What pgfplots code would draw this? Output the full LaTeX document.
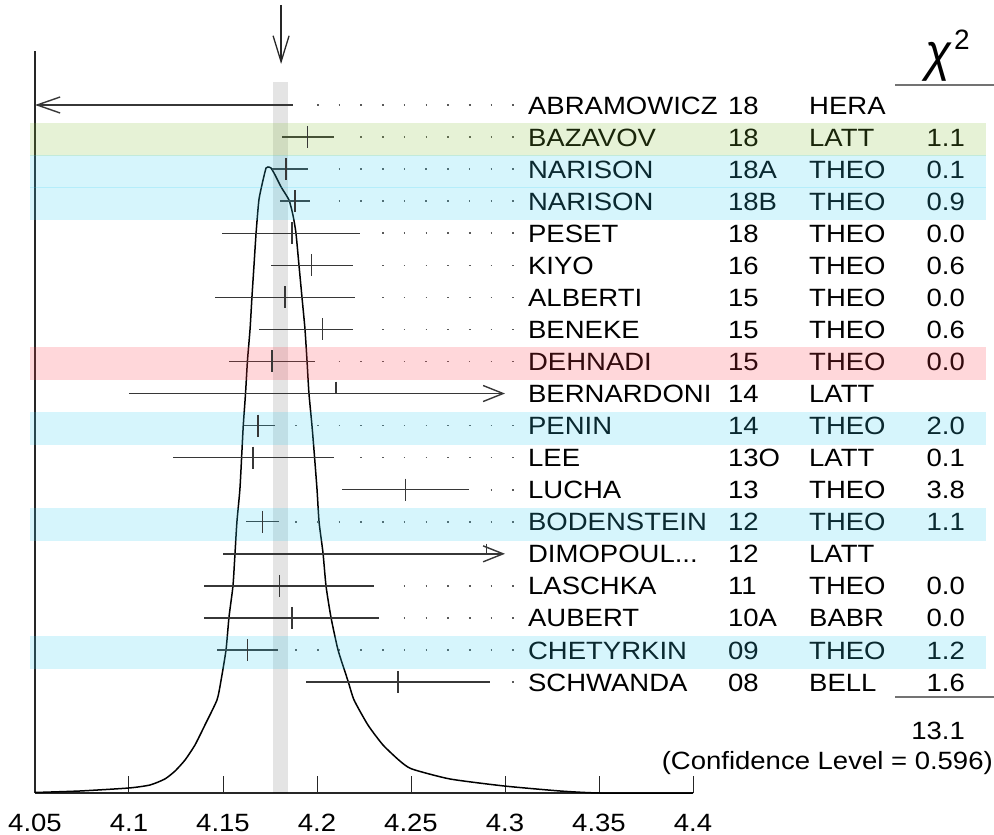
\documentclass[border=0pt]{standalone}
\usepackage{fontspec}
\setmainfont{Liberation Sans}[FakeStretch=1.1]
\newfontfamily\hdrfont{Liberation Sans}
\usepackage{graphicx}
\usepackage{pgfplots}
\pgfplotsset{compat=1.18}
\usetikzlibrary{arrows.meta}

\definecolor{bandgreen}{RGB}{130,190,50}
\definecolor{bandcyan}{RGB}{50,205,240}
\definecolor{bandpink}{RGB}{255,55,70}
\definecolor{barcol}{RGB}{55,55,55}

% measurements: row index (0 = top), central value, errors
\pgfplotstableread{
row v em ep
1 4.1950 0.0136 0.0140
2 4.1835 0.0075 0.0115
3 4.1883 0.0080 0.0080
4 4.1867 0.0372 0.0362
5 4.1970 0.0215 0.0220
6 4.1830 0.0370 0.0370
7 4.2030 0.0340 0.0160
8 4.1760 0.0230 0.0230
10 4.1687 0.0077 0.0090
11 4.1660 0.0426 0.0430
12 4.2470 0.0337 0.0340
13 4.1710 0.0090 0.0090
15 4.1800 0.0400 0.0503
16 4.1867 0.0467 0.0463
17 4.1630 0.0160 0.0160
18 4.2430 0.0490 0.0490
}\meas

% ideogram, relative height
\pgfplotstableread{
x h
4.0500 0.0008
4.0739 0.0032
4.1000 0.0080
4.1112 0.0128
4.1191 0.0224
4.1245 0.0351
4.1298 0.0527
4.1351 0.0767
4.1404 0.1086
4.1468 0.1486
4.1489 0.1789
4.1516 0.2284
4.1532 0.2812
4.1553 0.3307
4.1564 0.3834
4.1574 0.4329
4.1590 0.4856
4.1601 0.5479
4.1608 0.5879
4.1620 0.6390
4.1630 0.6901
4.1644 0.7412
4.1654 0.7923
4.1665 0.8435
4.1676 0.8946
4.1691 0.9473
4.1713 0.9792
4.1729 0.9984
4.1739 1.0000
4.1755 0.9984
4.1777 0.9872
4.1809 0.9681
4.1851 0.9473
4.1872 0.9233
4.1888 0.8946
4.1904 0.8435
4.1920 0.7923
4.1936 0.7412
4.1947 0.6901
4.1957 0.6390
4.1973 0.5879
4.1984 0.5479
4.2000 0.4856
4.2011 0.4329
4.2032 0.3834
4.2048 0.3307
4.2074 0.2812
4.2112 0.2284
4.2165 0.1789
4.2197 0.1486
4.2271 0.1086
4.2351 0.0767
4.2441 0.0511
4.2505 0.0383
4.2707 0.0224
4.2995 0.0112
4.3293 0.0032
4.3505 0.0000
4.4000 0.0000
}\ideo

\tikzset{
  txt/.style={font=\fontsize{25}{25}\selectfont, inner sep=0pt, yshift=-9pt},
  leader/.style={black!65, line width=1.6pt, dash pattern=on 1.6pt off 20.1pt},
}
\newcommand{\entry}[5]{%
  \node[txt,anchor=base west] at (axis cs:4.3122,#1) {#2};
  \node[txt,anchor=base west] at (axis cs:4.4186,#1) {#3};
  \node[txt,anchor=base west] at (axis cs:4.4617,#1) {#4};
  \node[txt,anchor=base east] at (axis cs:4.5447,#1) {#5};}
\newcommand{\leaderdots}[2]{\draw[leader] (axis cs:#2,#1) -- (axis cs:4.3048,#1);}
\newcommand{\band}[3]{\fill[#1,opacity=0.2] (axis cs:4.0473,#2) rectangle (axis cs:4.5559,#3);}

\begin{document}
\begin{tikzpicture}
\path[use as bounding box] (-35pt,-42pt) rectangle (959pt,793pt);

% ideogram and axis lines
\begin{axis}[at={(0,0)}, anchor=south west, scale only axis,
  width=658pt, height=742pt, xmin=4.05, xmax=4.4, ymin=0, ymax=1.1853,
  enlargelimits=false, axis lines=left,
  axis line style={-, black!85, line width=1.3pt},
  xtick={4.05,4.1,4.15,4.2,4.25,4.3,4.35,4.4}, ytick=\empty,
  tick align=inside, major tick length=17pt,
  tick style={black!85, line width=1pt},
  /pgf/number format/assume math mode=true,
  xticklabel style={font=\fontsize{25}{25}\selectfont, inner sep=0pt, anchor=north, yshift=-21pt},
  clip=false]
\addplot[black, line width=1.5pt, smooth, tension=0.35] table[x=x, y=h] {\ideo};
\end{axis}

% measurements, in row units
\begin{axis}[at={(0,0)}, anchor=south west, scale only axis,
  width=658pt, height=742pt, xmin=4.05, xmax=4.4,
  ymin=-1.6843, ymax=21.4598, y dir=reverse,
  enlargelimits=false, hide axis, clip=false]
% average band
\fill[black, opacity=0.105] (axis cs:4.1766,-0.7174) rectangle (axis cs:4.1846,21.4598);
\draw[black!85, line width=1.3pt, -{Straight Barb[length=26pt,width=16pt]}]
  (axis cs:4.1809,-3.12) -- (axis cs:4.1809,-1.28);

\addplot[barcol, only marks, mark=|, mark size=11pt, mark options={line width=1.4pt},
  error bars/.cd, x dir=both, x explicit, error mark=none,
  error bar style={line width=1.4pt, barcol}]
  table[x=v, y=row, x error minus=em, x error plus=ep] {\meas};

% off-scale measurements
\addplot[barcol, line width=1.4pt, -{Straight Barb[length=23pt,width=16pt]}]
  coordinates {(4.187,0) (4.05,0)};
\addplot[barcol, line width=1.4pt, -{Straight Barb[length=20pt,width=16pt]}]
  coordinates {(4.100,9) (4.300,9)};
\addplot[barcol, line width=1.4pt] coordinates {(4.21,8.63) (4.21,9)};
\addplot[barcol, line width=1.4pt, -{Straight Barb[length=20pt,width=16pt]}]
  coordinates {(4.150,14) (4.300,14)};
\addplot[barcol, line width=1.4pt] coordinates {(4.29,13.68) (4.29,14)};

\leaderdots{0}{4.2000}
\leaderdots{1}{4.22309}
\leaderdots{2}{4.21154}
\leaderdots{3}{4.21154}
\leaderdots{4}{4.23463}
\leaderdots{5}{4.23463}
\leaderdots{6}{4.23463}
\leaderdots{7}{4.23463}
\leaderdots{8}{4.21154}
\leaderdots{10}{4.18846}
\leaderdots{11}{4.22309}
\leaderdots{12}{4.29234}
\leaderdots{13}{4.18846}
\leaderdots{15}{4.24617}
\leaderdots{16}{4.24617}
\leaderdots{17}{4.18846}
\leaderdots{18}{4.30389}

\entry{0}{ABRAMOWICZ}{18}{HERA}{}
\entry{1}{BAZAVOV}{18}{LATT}{1.1}
\entry{2}{NARISON}{18A}{THEO}{0.1}
\entry{3}{NARISON}{18B}{THEO}{0.9}
\entry{4}{PESET}{18}{THEO}{0.0}
\entry{5}{KIYO}{16}{THEO}{0.6}
\entry{6}{ALBERTI}{15}{THEO}{0.0}
\entry{7}{BENEKE}{15}{THEO}{0.6}
\entry{8}{DEHNADI}{15}{THEO}{0.0}
\entry{9}{BERNARDONI}{14}{LATT}{}
\entry{10}{PENIN}{14}{THEO}{2.0}
\entry{11}{LEE}{13O}{LATT}{0.1}
\entry{12}{LUCHA}{13}{THEO}{3.8}
\entry{13}{BODENSTEIN}{12}{THEO}{1.1}
\entry{14}{DIMOPOUL...}{12}{LATT}{}
\entry{15}{LASCHKA}{11}{THEO}{0.0}
\entry{16}{AUBERT}{10A}{BABR}{0.0}
\entry{17}{CHETYRKIN}{09}{THEO}{1.2}
\entry{18}{SCHWANDA}{08}{BELL}{1.6}

\band{bandgreen}{0.563}{1.593}
\band{bandcyan}{1.563}{2.593}
\band{bandcyan}{2.563}{3.593}
\band{bandpink}{7.563}{8.593}
\band{bandcyan}{9.563}{10.593}
\band{bandcyan}{12.563}{13.593}
\band{bandcyan}{16.563}{17.593}
\end{axis}

% chi-square column header and total
\node[inner sep=0pt, anchor=south east] at (917pt,711pt)
  {\resizebox*{26pt}{39pt}{\hdrfont\itshape χ}};
\node[inner sep=0pt, anchor=south west] at (919pt,743pt)
  {\hdrfont\fontsize{28}{28}\selectfont 2};
\draw[black!55, line width=1.2pt] (860pt,708pt) -- (959pt,708pt);
\draw[black!55, line width=1.2pt] (860pt,96pt) -- (959pt,96pt);
\node[txt, yshift=0pt, anchor=base east] at (930pt,62pt) {13.1};
\node[txt, yshift=0pt, anchor=base east] at (958pt,32pt) {(Confidence Level = 0.596)};
\end{tikzpicture}
\end{document}
